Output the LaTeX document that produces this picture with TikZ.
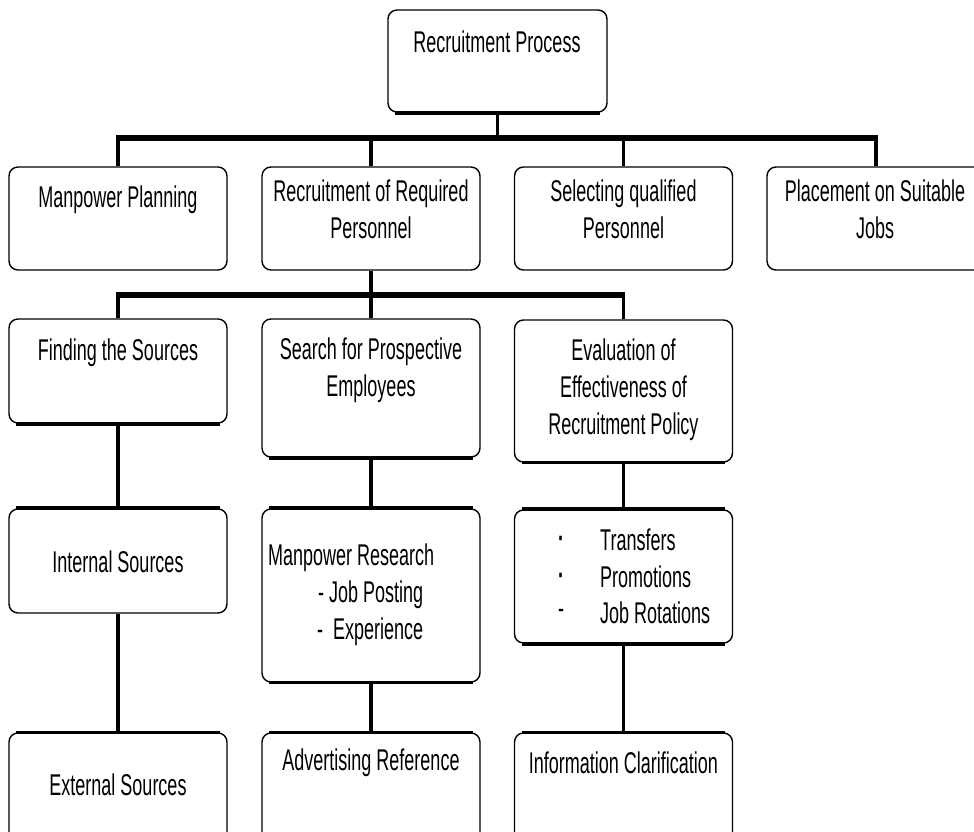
\documentclass[tikz,border=0pt]{standalone}
\usepackage{fontspec}
\setmainfont[FakeStretch=0.6]{Liberation Sans}
\begin{document}
\begin{tikzpicture}[x=1pt,y=-1pt,
  box/.style={draw=black, line width=1.4pt, rounded corners=9pt, inner sep=0pt, minimum width=218pt},
  txt/.style={font=\fontsize{30}{37}\selectfont, align=center, inner sep=0pt},
  ltxt/.style={font=\fontsize{30}{37}\selectfont, anchor=west, inner sep=0pt},
  busbar/.style={line width=6.5pt, shorten <=-1.75pt, shorten >=-1.75pt},
  stem/.style={line width=3.5pt},
  heavy/.style={line width=4pt}]
\useasboundingbox (0,0) rectangle (974,832);
\clip (0,0) rectangle (974,832);

% boxes
\node[box, minimum width=219pt, minimum height=102pt] (top) at (497.5,61) {};
\node[box, minimum height=103pt] (mp)  at (118,218.5) {};
\node[box, minimum height=103pt] (rrp) at (371,218.5) {};
\node[box, minimum height=103pt] (sqp) at (623.5,218.5) {};
\node[box, minimum height=103pt] (psj) at (876,218.5) {};
\node[box, minimum height=104pt] (fs)  at (118,371) {};
\node[box, minimum height=138pt] (spe) at (371,388) {};
\node[box, minimum height=142pt] (eep) at (623.5,391) {};
\node[box, minimum height=104pt] (is)  at (118,561) {};
\node[box, minimum height=173pt] (mr)  at (371,595.5) {};
\node[box, minimum height=133pt] (tr)  at (623.5,576.5) {};
\node[box, minimum height=110pt] (es)  at (118,788) {};
\node[box, minimum height=110pt] (ar)  at (371,788) {};
\node[box, minimum height=110pt] (ic)  at (623.5,788) {};

% heavy edges
\draw[heavy] ([xshift=8pt]top.south west) -- ([xshift=-8pt]top.south east);
\draw[heavy] ([xshift=8pt]fs.south west) -- ([xshift=-8pt]fs.south east);
\draw[heavy] ([xshift=8pt]spe.south west) -- ([xshift=-8pt]spe.south east);
\draw[line width=3pt] ([xshift=8pt]eep.south west) -- ([xshift=-8pt]eep.south east);
\draw[heavy] ([xshift=8pt]is.north west) -- ([xshift=-8pt]is.north east);
\draw[heavy] ([xshift=8pt]mr.north west) -- ([xshift=-8pt]mr.north east);
\draw[line width=3pt] ([xshift=8pt]mr.south west) -- ([xshift=-8pt]mr.south east);
\draw[heavy] ([xshift=8pt]tr.north west) -- ([xshift=-8pt]tr.north east);
\draw[heavy] ([xshift=8pt]tr.south west) -- ([xshift=-8pt]tr.south east);
\draw[line width=3pt] ([xshift=8pt]es.north west) -- ([xshift=-8pt]es.north east);
\draw[line width=3pt] ([xshift=8pt]ar.north west) -- ([xshift=-8pt]ar.north east);
\draw[line width=3pt] ([xshift=8pt]ic.north west) -- ([xshift=-8pt]ic.north east);

% connectors
\coordinate (b1) at (0,138);
\coordinate (b2) at (0,295);
\draw[stem] (top.south) -- (top.south |- b1);
\draw[busbar] (mp.north |- b1) -- (psj.north |- b1);
\draw[stem] (mp.north |- b1) -- (mp.north);
\draw[stem] (rrp.north |- b1) -- (rrp.north);
\draw[stem] (sqp.north |- b1) -- (sqp.north);
\draw[stem] (psj.north |- b1) -- (psj.north);

\draw[stem] (rrp.south) -- (rrp.south |- b2);
\draw[busbar] (fs.north |- b2) -- (eep.north |- b2);
\draw[stem] (fs.north |- b2) -- (fs.north);
\draw[stem] (spe.north |- b2) -- (spe.north);
\draw[stem] (eep.north |- b2) -- (eep.north);

\draw[stem] (fs.south) -- (is.north);
\draw[stem] (is.south) -- (es.north);
\draw[stem] (spe.south) -- (mr.north);
\draw[stem] (mr.south) -- (ar.north);
\draw[stem] (eep.south) -- (tr.north);
\draw[stem] (tr.south) -- (ic.north);

% texts
\node[txt] (ttop) at (497,42) {Recruitment Process};
\node[txt] (tmp)  at (118,200) {Manpower Planning};
\node[txt] (trrp) at (371,209.5) {Recruitment of Required\\Personnel};
\node[txt] (tsqp) at (623.5,209.5) {Selecting qualified\\Personnel};
\node[txt] (tpsj) at (875,209.5) {Placement on Suitable\\Jobs};
\node[txt] (tfs)  at (118,353) {Finding the Sources};
\node[txt] (tspe) at (371,370.5) {Search for Prospective\\Employees};
\node[txt] (teep) at (623.5,390) {Evaluation of\\Effectiveness of\\Recruitment Policy};
\node[txt] (tis)  at (118,562) {Internal Sources};
\node[ltxt] (tmr1) at (268,558) {Manpower Research};
\node[ltxt] (tmr2) at (318,595) {- Job Posting};
\node[ltxt] (tmr3) at (317,632) {-\ \ Experience};
\node[txt] (tb1) at (561,542) {\textbf{·}};
\node[txt] (tb2) at (561,579) {\textbf{·}};
\node[txt] (tb3) at (561,614) {-};
\node[ltxt] (ttr1) at (600,540) {Transfers};
\node[ltxt] (ttr2) at (600,577) {Promotions};
\node[ltxt] (ttr3) at (600,613) {Job Rotations};
\node[txt] (tes) at (118,785) {External Sources};
\node[txt] (tar) at (371,763) {Advertising Reference};
\node[txt] (tic) at (623.5,763) {Information Clarification};
\end{tikzpicture}
\end{document}
